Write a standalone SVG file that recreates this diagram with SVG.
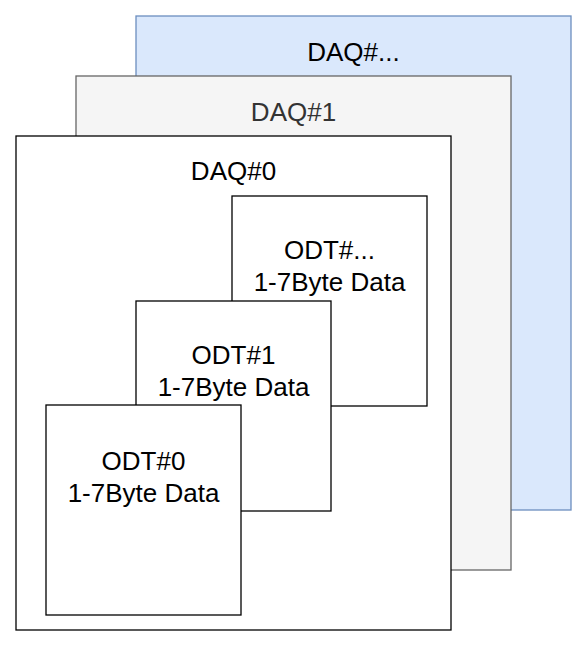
<svg xmlns="http://www.w3.org/2000/svg" width="587" height="647" viewBox="0 0 587 647">
<style>
.box{fill:#ffffff;stroke:#000000;stroke-width:1.3}
.t{font-family:"Liberation Sans",Arial,sans-serif;font-size:26px;fill:#000000;text-anchor:middle}
</style>
<rect width="587" height="647" fill="#ffffff"/>
<g id="daq-more">
<rect x="136" y="16" width="435" height="494" fill="#dae8fc" stroke="#6c8ebf" stroke-width="1.3"/>
<text class="t" x="353.5" y="61">DAQ#...</text>
</g>
<g id="daq1">
<rect x="76" y="76" width="435" height="494" fill="#f5f5f5" stroke="#666666" stroke-width="1.3"/>
<text class="t" x="293.5" y="121" style="fill:#333333">DAQ#1</text>
</g>
<g id="daq0">
<rect class="box" x="16" y="136" width="435" height="494"/>
<text class="t" x="233.5" y="180">DAQ#0</text>
</g>
<g id="odt-more">
<rect class="box" x="232" y="196" width="195" height="210"/>
<text class="t" x="329.5" y="259">ODT#...</text>
<text class="t" x="329.5" y="291">1-7Byte Data</text>
</g>
<g id="odt1">
<rect class="box" x="136" y="301" width="195" height="210"/>
<text class="t" x="233.5" y="364">ODT#1</text>
<text class="t" x="233.5" y="396">1-7Byte Data</text>
</g>
<g id="odt0">
<rect class="box" x="46" y="405" width="195" height="210"/>
<text class="t" x="143.5" y="470">ODT#0</text>
<text class="t" x="143.5" y="502">1-7Byte Data</text>
</g>
<g id="connectors"></g>
</svg>
